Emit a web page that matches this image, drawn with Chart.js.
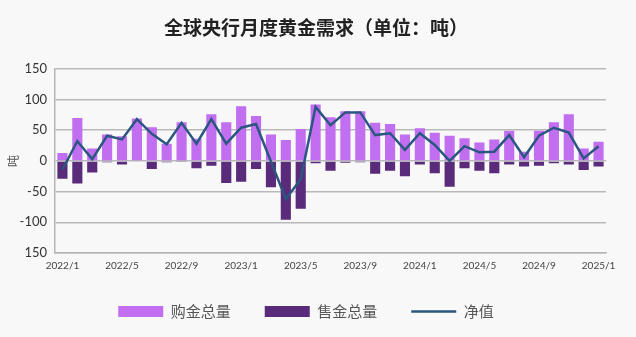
<!DOCTYPE html>
<html>
<head>
<meta charset="utf-8">
<script src="https://cdn.jsdelivr.net/npm/chart.js@4"></script>
<style>
  html, body { margin: 0; padding: 0; background: #f8f8f8; }
  #wrap { width: 636px; height: 337px; }
</style>
</head>
<body>
<div id="wrap"><canvas id="c" width="636" height="337"></canvas></div>
<script>
const months = ['2022/1','2022/2','2022/3','2022/4','2022/5','2022/6','2022/7','2022/8','2022/9','2022/10','2022/11','2022/12',
  '2023/1','2023/2','2023/3','2023/4','2023/5','2023/6','2023/7','2023/8','2023/9','2023/10','2023/11','2023/12',
  '2024/1','2024/2','2024/3','2024/4','2024/5','2024/6','2024/7','2024/8','2024/9','2024/10','2024/11','2024/12',
  '2025/1'];
const buyTotal = [13,70,20,43,40,69,55,28,63,36,76,63,89,73,43,34,52,92,71,81,81,62,60,43,53,46,41,37,30,35,49,15,49,63,76,20,31];
const sellTotal = [-29,-37,-19,-2,-6,0,-13,-2,-1,-12,-8,-36,-34,-13,-43,-96,-78,-4,-16,-3,-2,-21,-16,-25,-6,-20,-42,-12,-16,-20,-6,-9,-8,-4,-6,-15,-9];
const netValue = [-14,32,3,41,35,68,44,27,62,28,68,28,54,60,-1,-62,-30,88,58,79,79,42,45,18,45,26,0,24,14,15,42,6,41,54,46,4,24];
const yTicks = [-150,-100,-50,0,50,100,150];
const yTickLabels = ['150','-100','-50','0','50','100','150'];
const xTickLabels = ['2022/1','2022/5','2022/9','2023/1','2023/5','2023/9','2024/1','2024/5','2024/9','2025/1'];

const seriesNames = ['购金总量','售金总量','净值'];

const boxShift = {
  id: 'boxShift',
  afterLayout(chart) {
    const l = chart.legend;
    if (l) { l.top -= 9; l.bottom -= 9; }
    const t = chart.titleBlock;
    if (t) { t.left += 10; t.right += 10; }
  }
};

new Chart(document.getElementById('c'), {
  type: 'bar',
  plugins: [boxShift],
  data: {
    labels: months,
    datasets: [
      { type: 'line', label: seriesNames[2], data: netValue, borderColor: '#2b5680', backgroundColor: '#2b5680',
        borderWidth: 2.5, pointRadius: 0, tension: 0, pointStyle: 'line', order: 0 },
      { label: seriesNames[0], data: buyTotal, backgroundColor: '#c16ef0', borderWidth: 0, pointStyle: 'rect', order: 2 },
      { label: seriesNames[1], data: sellTotal, backgroundColor: '#5a2b7a', borderWidth: 0, pointStyle: 'rect', order: 1 }
    ]
  },
  options: {
    responsive: false,
    animation: false,
    devicePixelRatio: 1,
    layout: { padding: { left: 6, right: 30, top: 8, bottom: 4 } },
    datasets: { bar: { grouped: false, categoryPercentage: 1, barPercentage: 0.68 } },
    plugins: {
      title: {
        display: true,
        text: '全球央行月度黄金需求（单位：吨）',
        color: '#222',
        font: { family: '"Noto Sans CJK SC"', size: 19, weight: 'bold' },
        padding: { top: 8, bottom: 30 }
      },
      legend: {
        position: 'bottom',
        maxHeight: 54,
        labels: {
          sort: (a, b) => [1,2,0].indexOf(a.datasetIndex) - [1,2,0].indexOf(b.datasetIndex),
          usePointStyle: true,
          pointStyleWidth: 45,
          boxHeight: 11,
          padding: 34,
          color: '#555',
          font: { family: '"Noto Sans CJK SC"', size: 15 }
        }
      },
      tooltip: { enabled: false }
    },
    scales: {
      x: {
        offset: true,
        grid: { display: false, drawTicks: false },
        border: { display: true, color: '#b5b5b5', width: 1.5 },
        ticks: {
          autoSkip: false, maxRotation: 0, minRotation: 0, padding: 7,
          color: '#444',
          font: { family: 'Lato', size: 10 },
          callback: function(v, i) { const l = months[i]; return xTickLabels.includes(l) ? l : ''; }
        }
      },
      y: {
        min: -150, max: 150,
        afterBuildTicks: s => { s.ticks = yTicks.map(v => ({ value: v })); },
        afterFit: s => { s.width = 49; },
        grid: { color: '#b9b9b9', lineWidth: 1.5, drawTicks: false },
        border: { display: true, color: '#b5b5b5', width: 1.5 },
        ticks: {
          padding: 8, color: '#333',
          font: { family: 'Lato', size: 13 },
          callback: v => yTickLabels[yTicks.indexOf(v)]
        },
        title: { display: true, text: '吨', color: '#555', padding: 0,
          font: { family: '"Noto Sans CJK SC"', size: 12 } }
      }
    }
  }
});
</script>
</body>
</html>
